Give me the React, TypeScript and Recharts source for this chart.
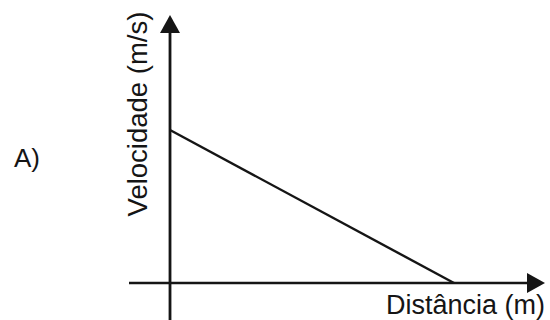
import React from "react";
import { LineChart, Line, XAxis, YAxis, ReferenceLine } from "recharts";

const distances = [0, 10];
const velocities = [10, 0];
const xAxisTitle = "Distância (m)";
const yAxisTitle = "Velocidade (m/s)";
const panelLabel = "A)";

const data = distances.map((d, i) => ({ d, v: velocities[i] }));

const FONT = '"Liberation Sans", Arial, sans-serif';
const INK = "#151515";

const HorizontalAxis = (props: any) => {
  const { x1, y1, x2, y2 } = props;
  const left = Math.min(x1, x2);
  const right = Math.max(x1, x2);
  const y = y1 ?? y2;
  return (
    <g>
      <line x1={left} y1={y} x2={right - 14} y2={y} stroke={INK} strokeWidth={2.5} />
      <polygon points={`${right},${y} ${right - 18},${y - 10} ${right - 18},${y + 10}`} fill={INK} />
      <text x={right} y={y + 31} textAnchor="end" fontFamily={FONT} fontSize={27} fill={INK}>
        {xAxisTitle}
      </text>
    </g>
  );
};

const VerticalAxis = (props: any) => {
  const { x1, y1, y2 } = props;
  const top = Math.min(y1, y2);
  const bottom = Math.max(y1, y2);
  const x = x1;
  const cx = x - 23;
  const cy = 114;
  return (
    <g>
      <line x1={x} y1={top + 14} x2={x} y2={bottom} stroke={INK} strokeWidth={2.8} />
      <polygon points={`${x},${top} ${x - 10},${top + 18} ${x + 10},${top + 18}`} fill={INK} />
      <text
        x={cx}
        y={cy}
        textAnchor="middle"
        transform={`rotate(-90 ${cx} ${cy})`}
        fontFamily={FONT}
        fontSize={27.5}
        fill={INK}
      >
        {yAxisTitle}
      </text>
    </g>
  );
};

export default function App() {
  return (
    <div style={{ position: "absolute", left: 0, top: 0, width: 550, height: 320, background: "#fff" }}>
      <div
        style={{
          position: "absolute",
          left: 14,
          top: 143,
          fontFamily: FONT,
          fontSize: 26,
          color: INK,
          lineHeight: "30px",
        }}
      >
        {panelLabel}
      </div>
      <LineChart width={550} height={320} data={data} margin={{ top: 15, right: 5, bottom: 0, left: 129 }}>
        <XAxis type="number" dataKey="d" domain={[-1.444, 13.204]} allowDataOverflow hide />
        <YAxis type="number" domain={[-2.418, 17.516]} allowDataOverflow hide />
        <ReferenceLine y={0} ifOverflow="visible" shape={HorizontalAxis} />
        <ReferenceLine x={0} ifOverflow="visible" shape={VerticalAxis} />
        <Line
          type="linear"
          dataKey="v"
          stroke={INK}
          strokeWidth={2.4}
          dot={false}
          isAnimationActive={false}
        />
      </LineChart>
    </div>
  );
}
